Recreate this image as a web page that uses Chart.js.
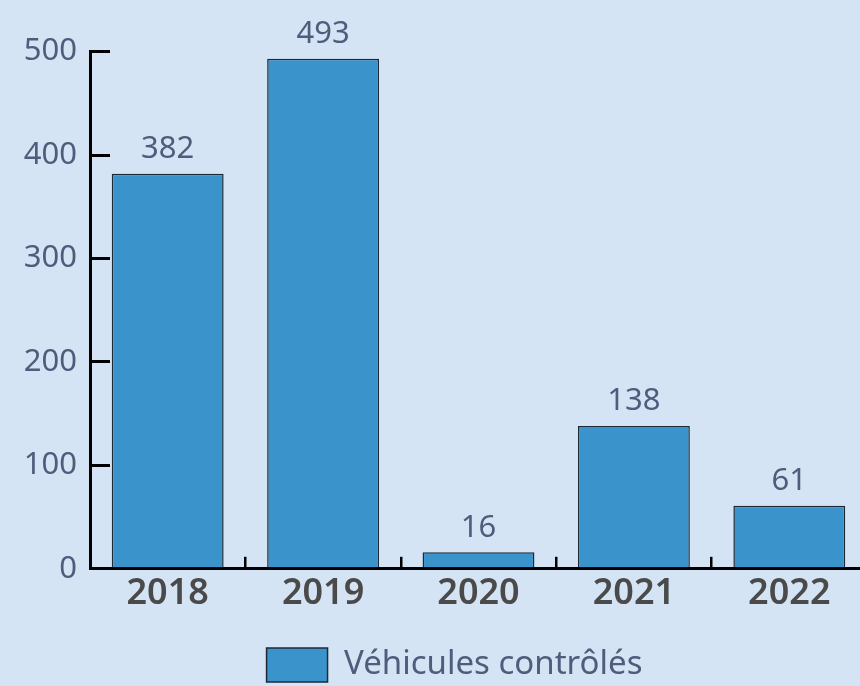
<!DOCTYPE html>
<html>
<head>
<meta charset="utf-8">
<script src="https://cdn.jsdelivr.net/npm/chart.js@4/dist/chart.umd.min.js"></script>
<style>
  html, body { margin: 0; padding: 0; background: #d5e4f4; overflow: hidden; }
  #wrap { position: relative; width: 870px; height: 686px; }
</style>
</head>
<body>
<div id="wrap"><canvas id="c" width="870" height="686"></canvas></div>
<script>
const categories = ['2018', '2019', '2020', '2021', '2022'];
const seriesName = 'Véhicules contrôlés';
const values = [382, 493, 16, 138, 61];
const yTicks = [0, 100, 200, 300, 400, 500];

const BAR_FILL = '#3a94cb';
const BAR_BORDER = '#1d2a36';
const TEXT_BLUE = '#4f5c7c';
const TEXT_GREY = '#4a4a4a';
const FONT = '"Noto Sans", "Open Sans", sans-serif';

const valueLabels = {
  id: 'valueLabels',
  afterDatasetsDraw(chart) {
    const ctx = chart.ctx;
    const meta = chart.getDatasetMeta(0);
    ctx.save();
    ctx.font = '31px ' + FONT;
    ctx.fillStyle = TEXT_BLUE;
    ctx.textAlign = 'center';
    ctx.textBaseline = 'bottom';
    meta.data.forEach((bar, i) => {
      ctx.fillText(String(chart.data.datasets[0].data[i]), bar.x, bar.y - 9);
    });
    ctx.restore();
  }
};

const legendShift = {
  id: 'legendShift',
  afterLayout(chart) {
    const lg = chart.legend;
    if (lg) { lg.left += 21; lg.right += 21; lg.top += 6; lg.bottom += 6; }
  }
};

new Chart(document.getElementById('c'), {
  type: 'bar',
  data: {
    labels: categories,
    datasets: [{
      label: seriesName,
      data: values,
      backgroundColor: BAR_FILL,
      borderColor: BAR_BORDER,
      borderWidth: 1.5,
      barPercentage: 0.72,
      categoryPercentage: 1.0
    }]
  },
  options: {
    responsive: false,
    animation: false,
    devicePixelRatio: 1,
    layout: { padding: { top: 48, right: 3, left: 0, bottom: 0 } },
    plugins: {
      tooltip: { enabled: false },
      legend: {
        position: 'bottom',
        labels: {
          boxWidth: 61,
          boxHeight: 34,
          padding: 4,
          color: TEXT_BLUE,
          font: { family: FONT, size: 33 }
        }
      }
    },
    scales: {
      x: {
        afterFit(scale) { scale.height += 8; },
        grid: {
          display: true,
          offset: true,
          drawOnChartArea: false,
          drawTicks: true,
          tickLength: -12,
          color: '#000000',
          lineWidth: 2.5
        },
        border: { display: true, color: '#000000', width: 3 },
        ticks: {
          color: TEXT_GREY,
          font: { family: FONT, size: 36, weight: '600' },
          padding: 15
        }
      },
      y: {
        min: 0,
        max: 500,
        afterBuildTicks(scale) { scale.ticks = yTicks.map(v => ({ value: v })); },
        afterFit(scale) { scale.width = 90; },
        grid: {
          display: true,
          drawOnChartArea: false,
          drawTicks: true,
          tickLength: -20,
          color: '#000000',
          lineWidth: 3
        },
        border: { display: true, color: '#000000', width: 3 },
        ticks: {
          color: TEXT_BLUE,
          font: { family: FONT, size: 31 },
          padding: 33
        }
      }
    }
  },
  plugins: [valueLabels, legendShift]
});
</script>
</body>
</html>
